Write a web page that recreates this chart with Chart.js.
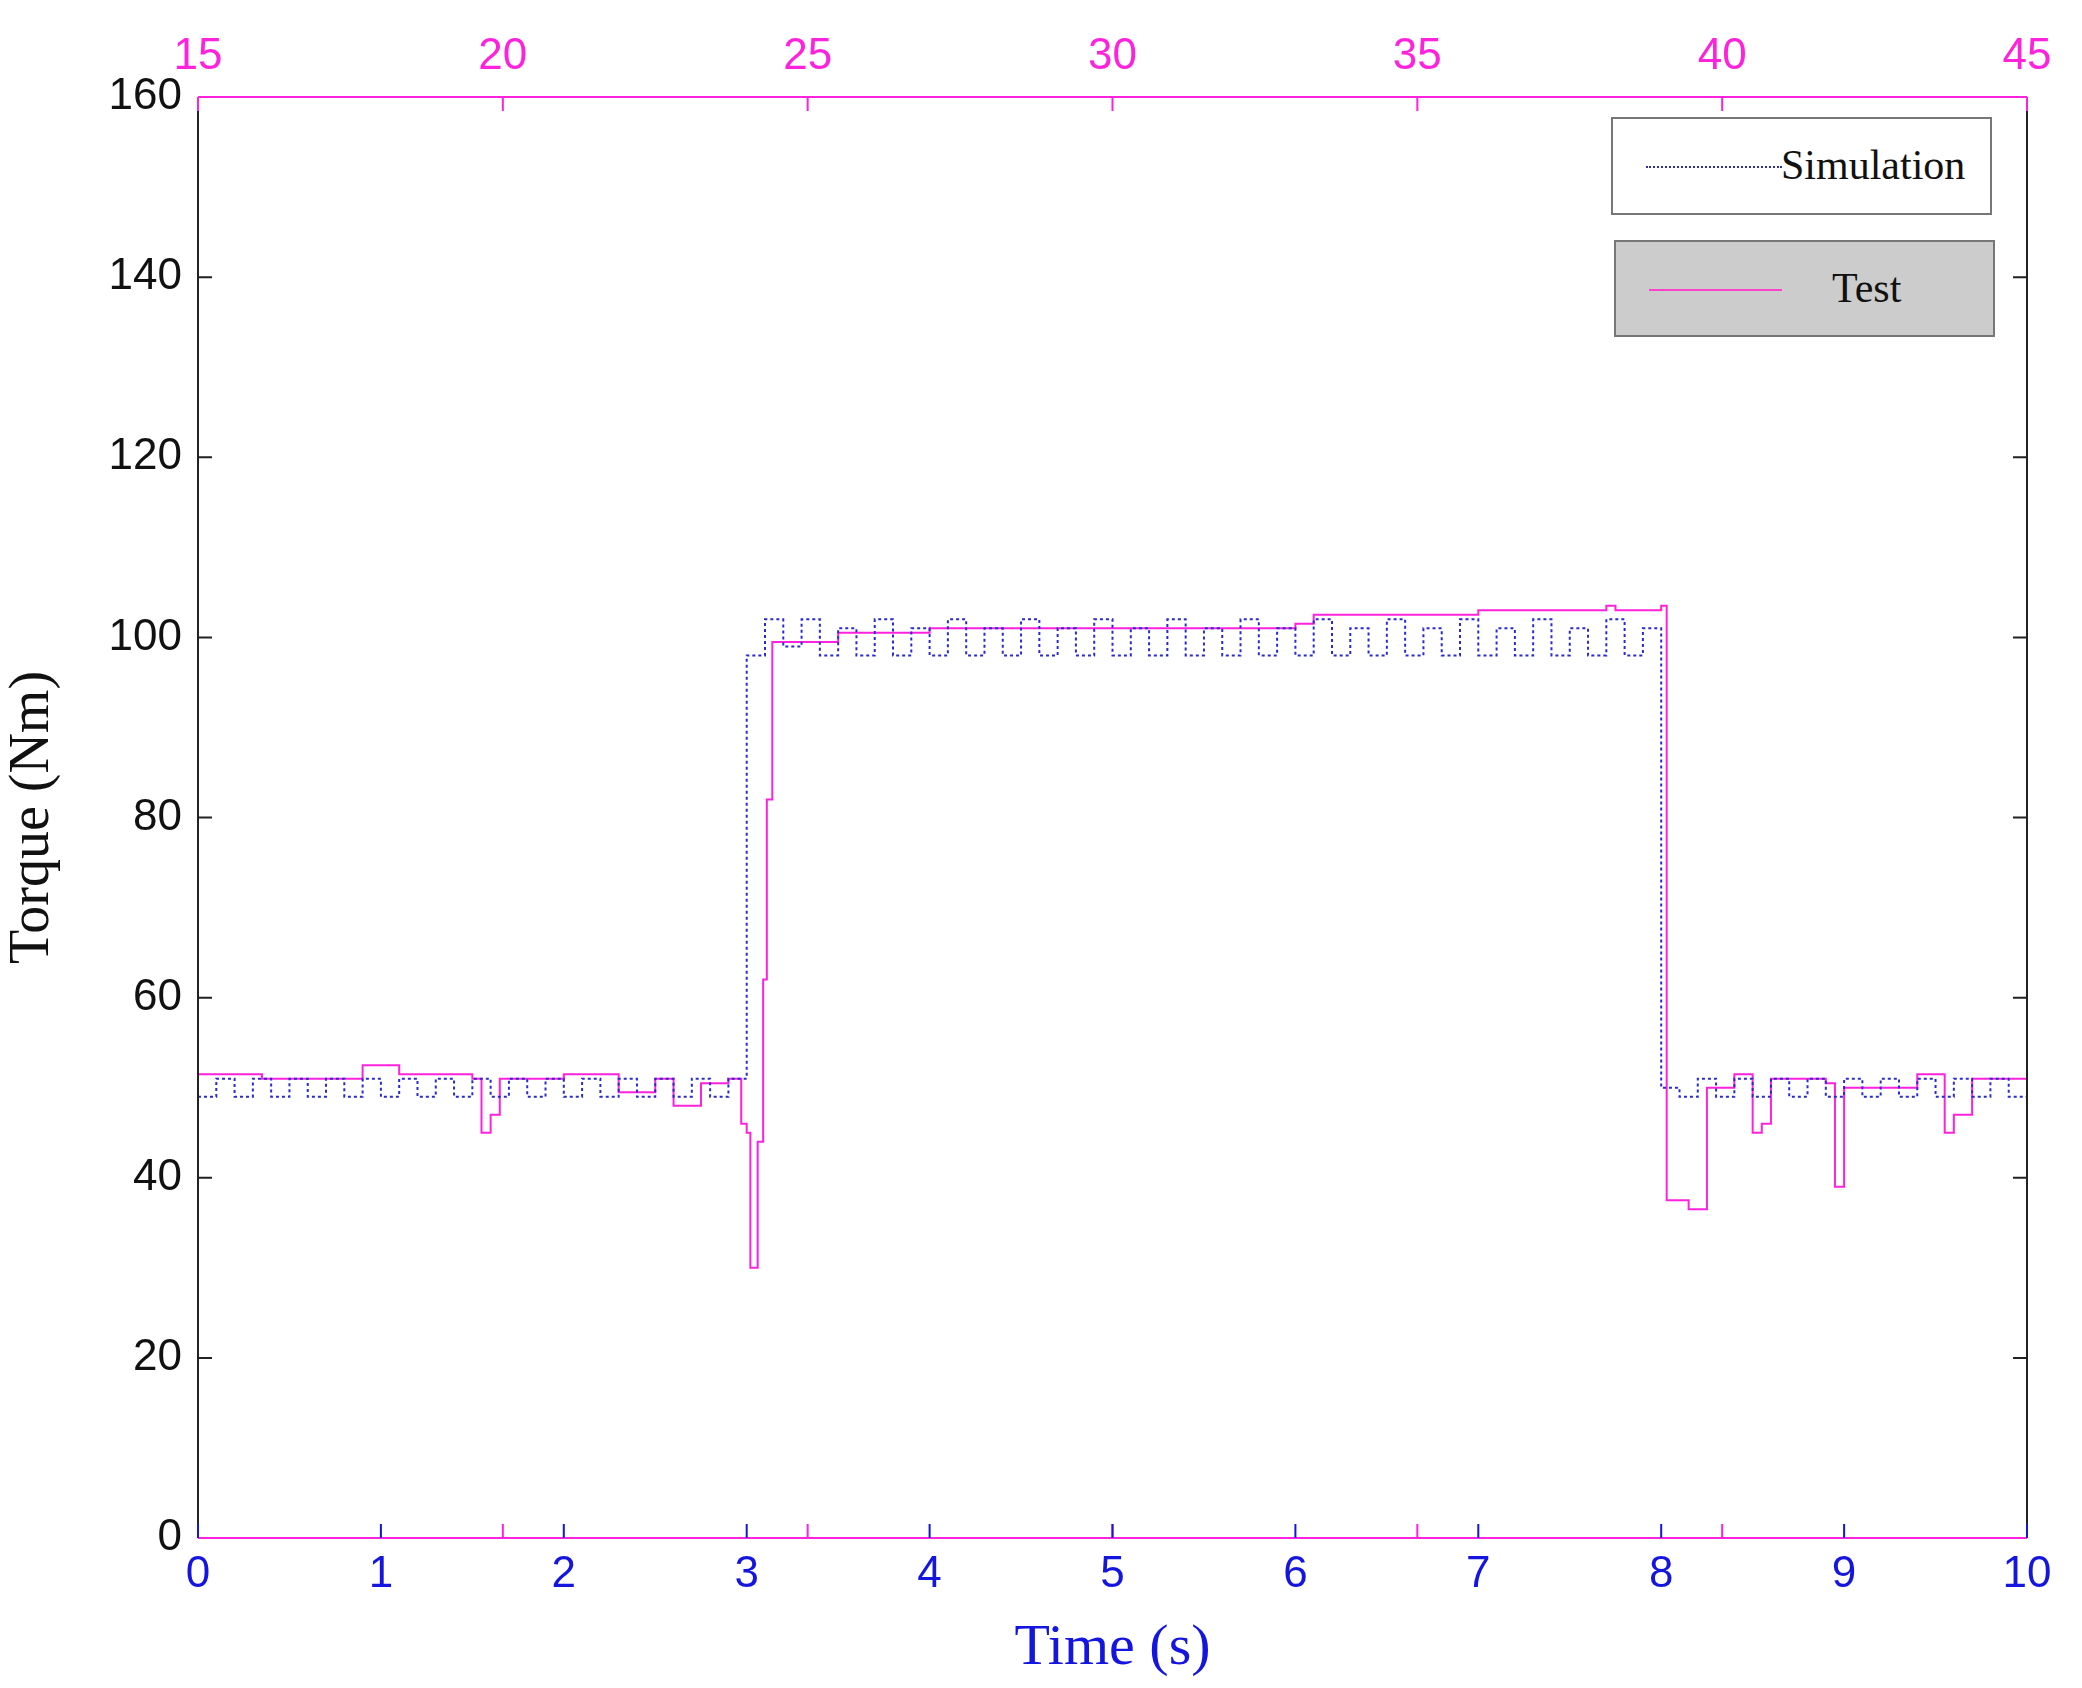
<!DOCTYPE html>
<html>
<head>
<meta charset="utf-8">
<script src="https://cdn.jsdelivr.net/npm/chart.js@4"></script>
<style>
  body { margin: 0; background: #fff; }
  #wrap { position: relative; width: 2082px; height: 1688px; }
  .lg { position: absolute; border: 2px solid #777; font-family: "Liberation Serif", serif; font-size: 42px; color: #111; box-sizing: border-box; }
  .lg .ln { position: absolute; top: 50%; }
  .lg span { position: absolute; top: 50%; transform: translateY(-52%); }
</style>
</head>
<body>
<div id="wrap">
  <canvas id="myChart" width="2082" height="1688"></canvas>
  <div class="lg" style="left:1611px;top:117px;width:381px;height:98px;background:#fff">
    <div class="ln" style="left:33px;width:136px;border-top:2px dotted #3030a0"></div>
    <span style="left:168px">Simulation</span>
  </div>
  <div class="lg" style="left:1614px;top:240px;width:381px;height:97px;background:#cccccc">
    <div class="ln" style="left:33px;width:133px;border-top:2px solid #ff44cc"></div>
    <span style="left:216px">Test</span>
  </div>
</div>
<script>
// -- simulation: sampled every 0.1 s --
const simVals = [
  49,51,49,51,49,51,49,51,49,51, 49,51,49,51,49,51,49,51,49,51, 49,51,49,51,49,51,49,51,49,51,
  98,102,99,102,98,101,98,102,98,101, 98,102,98,101,98,102,98,101,98,102,
  98,101,98,102,98,101,98,102,98,101, 98,102,98,101,98,102,98,101,98,102,
  98,101,98,102,98,101,98,102,98,101,
  50,49,51,49,51,49,51,49,51,49, 51,49,51,49,51,49,51,49,51,49, 50
];
const simTimes = simVals.map((v, i) => +(i * 0.1).toFixed(2));

// -- test measurement --
const testTimes = [0,0.35,0.9,1.1,1.5,1.55,1.6,1.65,2.0,2.3,2.5,2.6,2.75,2.9,2.97,3.0,3.02,3.06,3.09,3.11,3.14,3.5,4.0,6.0,6.1,7.0,7.7,7.75,8.0,8.03,8.15,8.25,8.4,8.5,8.55,8.6,8.9,8.95,9.0,9.4,9.55,9.6,9.7,10];
const testVals  = [51.5,51,52.5,51.5,51,45,47,51,51.5,49.5,51,48,50.5,51,46,45,30,44,62,82,99.5,100.5,101,101.5,102.5,103,103.5,103,103.5,37.5,36.5,50,51.5,45,46,51,50.5,39,50,51.5,45,47,51,50];

const yTicks = [0,20,40,60,80,100,120,140,160];
const topTicks = [15,20,25,30,35,40,45];

const MAG = '#ff22dd';
const BLUE = '#1515e0';

// draw frame and inward ticks
const framePlugin = {
  id: 'frame',
  afterDraw(chart) {
    const c = chart.ctx, a = chart.chartArea;
    const x = chart.scales.x, y = chart.scales.y, x2 = chart.scales.x2;
    c.save();
    c.lineWidth = 2;
    c.strokeStyle = '#222';
    c.beginPath();
    c.moveTo(a.left, a.top); c.lineTo(a.left, a.bottom);
    c.moveTo(a.right, a.top); c.lineTo(a.right, a.bottom);
    for (const v of yTicks) {
      const p = y.getPixelForValue(v);
      c.moveTo(a.left, p); c.lineTo(a.left + 14, p);
      c.moveTo(a.right, p); c.lineTo(a.right - 14, p);
    }
    c.stroke();
    c.strokeStyle = MAG;
    c.beginPath();
    c.moveTo(a.left, a.top); c.lineTo(a.right, a.top);
    c.moveTo(a.left, a.bottom); c.lineTo(a.right, a.bottom);
    for (const v of topTicks) {
      const p = x2.getPixelForValue(v);
      c.moveTo(p, a.top); c.lineTo(p, a.top + 14);
      c.moveTo(p, a.bottom); c.lineTo(p, a.bottom - 14);
    }
    c.stroke();
    c.strokeStyle = BLUE;
    c.beginPath();
    for (let v = 0; v <= 10; v++) {
      const p = x.getPixelForValue(v);
      c.moveTo(p, a.bottom); c.lineTo(p, a.bottom - 14);
    }
    c.stroke();
    c.restore();
  }
};

const chartObj = {
  type: 'line',
  data: {
    datasets: [{
      label: 'Simulation',
      data: simTimes.map((t, i) => ({ x: t, y: simVals[i] })),
      stepped: true,
      borderColor: '#2a2ad0',
      borderWidth: 2,
      borderDash: [3, 3],
      pointRadius: 0
    }, {
      label: 'Test',
      data: testTimes.map((t, i) => ({ x: t, y: testVals[i] })),
      stepped: true,
      borderColor: MAG,
      borderWidth: 2,
      pointRadius: 0
    }]
  },
  options: {
    responsive: false,
    animation: false,
    layout: { padding: { right: 55 } },
    plugins: { legend: { display: false }, tooltip: { enabled: false } },
    scales: {
      x: {
        type: 'linear', min: 0, max: 10,
        grid: { display: false }, border: { display: false },
        ticks: { stepSize: 1, color: BLUE, font: { family: 'Liberation Sans', size: 44 }, padding: 2 },
        title: { display: true, text: 'Time (s)', color: BLUE, font: { family: 'Liberation Serif', size: 58 }, padding: { top: -8 } },
        afterFit(s) { s.height = 150; }
      },
      x2: {
        type: 'linear', position: 'top', min: 15, max: 45,
        grid: { display: false }, border: { display: false },
        ticks: { stepSize: 5, color: MAG, font: { family: 'Liberation Sans', size: 44 }, padding: 6 },
        afterFit(s) { s.height = 97; }
      },
      y: {
        min: 0, max: 160,
        grid: { display: false }, border: { display: false },
        ticks: { stepSize: 20, color: '#111', font: { family: 'Liberation Sans', size: 44 }, padding: 8 },
        title: { display: true, text: 'Torque (Nm)', color: '#111', font: { family: 'Liberation Serif', size: 56 }, padding: 0 },
        afterFit(s) { s.width = 198; }
      }
    }
  },
  plugins: [framePlugin]
};
const ctx = document.getElementById('myChart').getContext('2d');
const myChart = new Chart(ctx, chartObj);
</script>
</body>
</html>
